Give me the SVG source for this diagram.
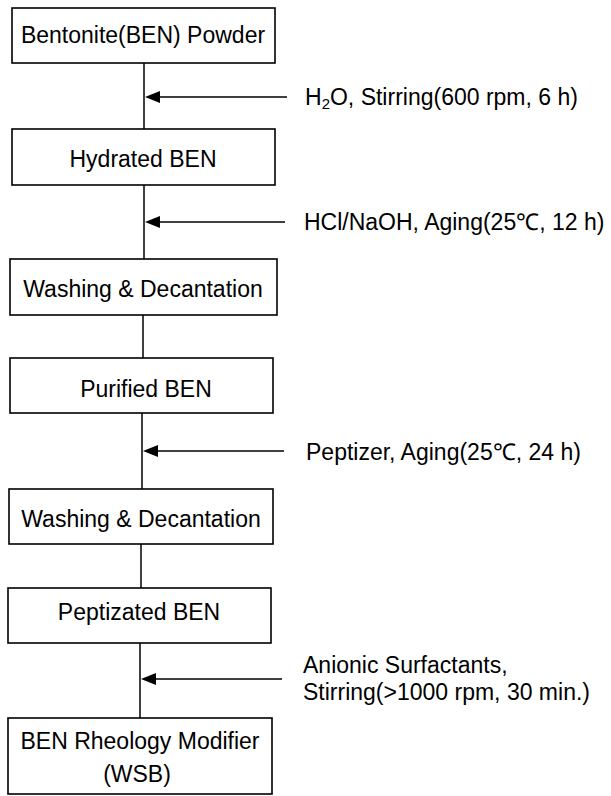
<svg xmlns="http://www.w3.org/2000/svg" width="611" height="796" viewBox="0 0 611 796">
<style>
.box{fill:#fff;stroke:#000;stroke-width:1.6}
.t{font-family:"Liberation Sans",Arial,sans-serif;font-size:23px;fill:#000}
.c{text-anchor:middle}
.ln{stroke:#000;stroke-width:1.5;fill:none}
.ah{fill:#000}
</style>
<rect width="611" height="796" fill="#fff"/>
<g id="connectors">
<line class="ln" x1="144" y1="63" x2="144" y2="129"/>
<line class="ln" x1="144" y1="185" x2="144" y2="259"/>
<line class="ln" x1="143" y1="315" x2="143" y2="358"/>
<line class="ln" x1="142" y1="413" x2="142" y2="489"/>
<line class="ln" x1="141" y1="544" x2="141" y2="588"/>
<line class="ln" x1="140" y1="643" x2="140" y2="718"/>
<line class="ln" x1="287" y1="97" x2="155" y2="97"/>
<polygon class="ah" points="145,97 160,91 160,103"/>
<line class="ln" x1="285" y1="222" x2="155" y2="222"/>
<polygon class="ah" points="145,222 160,216 160,228"/>
<line class="ln" x1="284" y1="451" x2="153" y2="451"/>
<polygon class="ah" points="143,451 158,445 158,457"/>
<line class="ln" x1="282" y1="679" x2="151" y2="679"/>
<polygon class="ah" points="141,679 156,673 156,685"/>
</g>
<g id="n1"><rect class="box" x="12" y="8" width="263" height="55"/><text class="t c" x="143" y="43">Bentonite(BEN) Powder</text></g>
<g id="n2"><rect class="box" x="12" y="129" width="263" height="56"/><text class="t c" x="143" y="167">Hydrated BEN</text></g>
<g id="n3"><rect class="box" x="10" y="259" width="267" height="56"/><text class="t c" x="143" y="297">Washing &amp; Decantation</text></g>
<g id="n4"><rect class="box" x="10" y="358" width="263" height="55"/><text class="t c" x="146" y="397">Purified BEN</text></g>
<g id="n5"><rect class="box" x="9" y="489" width="264" height="55"/><text class="t c" x="141" y="527">Washing &amp; Decantation</text></g>
<g id="n6"><rect class="box" x="8" y="588" width="263" height="55"/><text class="t c" x="139" y="620">Peptizated BEN</text></g>
<g id="n7"><rect class="box" x="8" y="718" width="264" height="76"/><text class="t c" x="140" y="749">BEN Rheology Modifier</text><text class="t c" x="137" y="782">(WSB)</text></g>
<g id="labels">
<text class="t" x="305" y="105">H<tspan font-size="15" dy="4">2</tspan><tspan dy="-4">O, Stirring(600 rpm, 6 h)</tspan></text>
<text class="t" x="304" y="230">HCl/NaOH, Aging(25℃, 12 h)</text>
<text class="t" x="306" y="460">Peptizer, Aging(25℃, 24 h)</text>
<text class="t" x="303" y="673">Anionic Surfactants,</text>
<text class="t" x="303" y="700">Stirring(&gt;1000 rpm, 30 min.)</text>
</g>
</svg>
